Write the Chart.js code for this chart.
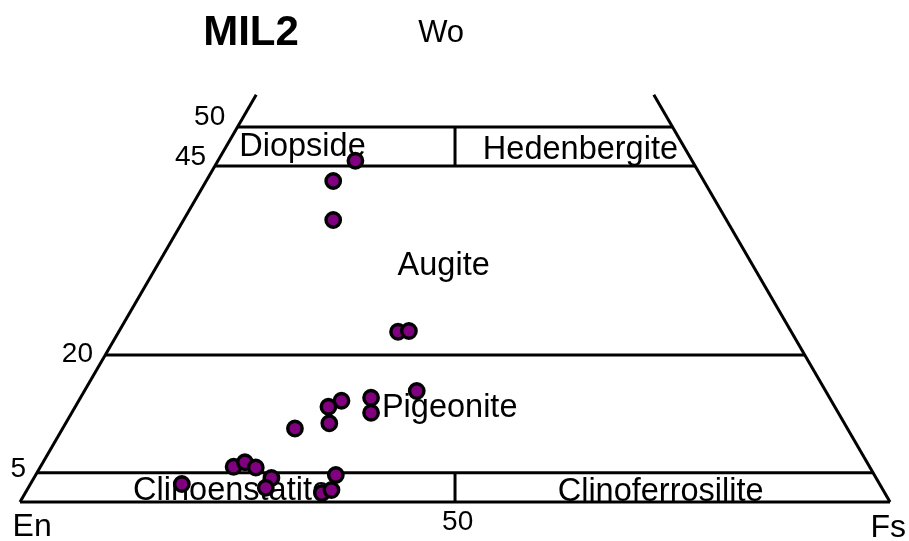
<!DOCTYPE html>
<html>
<head>
<meta charset="utf-8">
<title>MIL2 pyroxene quadrilateral</title>
<script src="https://cdn.jsdelivr.net/npm/chart.js@4"></script>
<style>
  html,body{ margin:0; padding:0; background:#fff; }
  #wrap{ width:909px; height:541px; position:relative; }
</style>
</head>
<body>
<div id="wrap"><canvas id="chart"></canvas></div>
<script>
// analyses (mol %): Wo and Fs, En = 100 - Wo - Fs
const woPts = [45.5, 42.8, 37.6, 22.7, 22.8, 14.8, 13.5, 12.7, 10.5, 13.9, 11.9, 9.8, 2.4, 4.7, 5.3, 4.6, 3.2, 1.9, 1.2, 1.6, 3.6];
const fsPts = [15.8, 14.6, 17.2, 32.1, 33.3, 38.2, 30.2, 29.1, 30.3, 33.4, 34.4, 26.7, 17.4, 22.2, 23.2, 24.8, 27.3, 27.3, 34.1, 35.0, 34.5];

// field boundaries (Wo levels as drawn) and their tick labels
const woLevels = [3.9, 19.6, 44.8, 50];
const woTicks  = ["5", "20", "45", "50"];
const edgeTop = 54.3;          // side lines run a bit past Wo 50
const splitX = 50;             // En/Fs divider of the top and bottom fields

const fields = ["Diopside", "Hedenbergite", "Augite", "Pigeonite", "Clinoenstatite", "Clinoferrosilite"];
const corners = ["En", "Fs", "Wo"];

// ternary -> plane: x = Fs + Wo/2, y = Wo
const pt = (wo, fs) => ({ x: fs + wo / 2, y: wo });
const leftX = wo => wo / 2;
const rightX = wo => 100 - wo / 2;

const lines = [];
lines.push([{x:0,y:0},{x:100,y:0}]);
lines.push([{x:0,y:0},{x:leftX(edgeTop),y:edgeTop}]);
lines.push([{x:100,y:0},{x:rightX(edgeTop),y:edgeTop}]);
woLevels.forEach(w => lines.push([{x:leftX(w),y:w},{x:rightX(w),y:w}]));
lines.push([{x:splitX,y:0},{x:splitX,y:woLevels[0]}]);
lines.push([{x:splitX,y:woLevels[2]},{x:splitX,y:woLevels[3]}]);

const lineSets = lines.map(d => ({
  type: "line", data: d, borderColor: "#000", borderWidth: 3,
  pointRadius: 0, fill: false, tension: 0, order: 2
}));

// texts, placed in plot units
const F = '"Liberation Sans", Arial, sans-serif';
const texts = [
  { t: "MIL2", x: 26.55, y: 62.5, font: "bold 42px " + F },
  { t: corners[2], x: 48.4, y: 62.5, font: "31px " + F },
  { t: corners[0], x: 1.4, y: -3.3, font: "32px " + F },
  { t: corners[1], x: 99.8, y: -3.5, font: "32px " + F },
  { t: "50", x: 50.3, y: -2.7, font: "28px " + F },
  { t: woTicks[3], x: 21.8, y: 51.3, font: "28px " + F },
  { t: woTicks[2], x: 19.6, y: 45.9, font: "28px " + F },
  { t: woTicks[1], x: 6.6, y: 19.7, font: "28px " + F },
  { t: woTicks[0], x: -0.2, y: 4.3, font: "28px " + F },
  { t: fields[0], x: 25.2, y: 46.1, font: "32.5px " + F, left: true },
  { t: fields[1], x: 53.2, y: 45.7, font: "32.5px " + F, left: true },
  { t: fields[2], x: 43.4, y: 30.3, font: "32.5px " + F, left: true },
  { t: fields[3], x: 41.6, y: 11.3, font: "32.5px " + F, left: true },
  { t: fields[4], x: 13.0, y: 0.3, font: "32.5px " + F, left: true },
  { t: fields[5], x: 61.8, y: 0.1, font: "32.5px " + F, left: true }
];

const textPlugin = {
  id: "texts",
  beforeDatasetsDraw(chart) {
    const { ctx, scales } = chart;
    ctx.save();
    ctx.fillStyle = "#000";
    texts.forEach(o => {
      ctx.font = o.font;
      ctx.textAlign = o.left ? "left" : "center";
      ctx.textBaseline = o.left ? "alphabetic" : "middle";
      ctx.fillText(o.t, scales.x.getPixelForValue(o.x), scales.y.getPixelForValue(o.y));
    });
    ctx.restore();
  }
};

new Chart(document.getElementById("chart"), {
  type: "scatter",
  data: {
    datasets: [
      {
        label: "MIL2",
        data: woPts.map((w, i) => pt(w, fsPts[i])),
        backgroundColor: "#800080", borderColor: "#000",
        borderWidth: 3.4, pointRadius: 7.2, order: 0
      },
      ...lineSets
    ]
  },
  options: {
    responsive: true, maintainAspectRatio: false, animation: false,
    layout: { padding: 0, autoPadding: false },
    plugins: { legend: { display: false }, tooltip: { enabled: false } },
    scales: {
      x: { type: "linear", min: -2.3, max: 102.18, display: false },
      y: { type: "linear", min: -5.2, max: 66.93, display: false }
    }
  },
  plugins: [textPlugin]
});
</script>
</body>
</html>
